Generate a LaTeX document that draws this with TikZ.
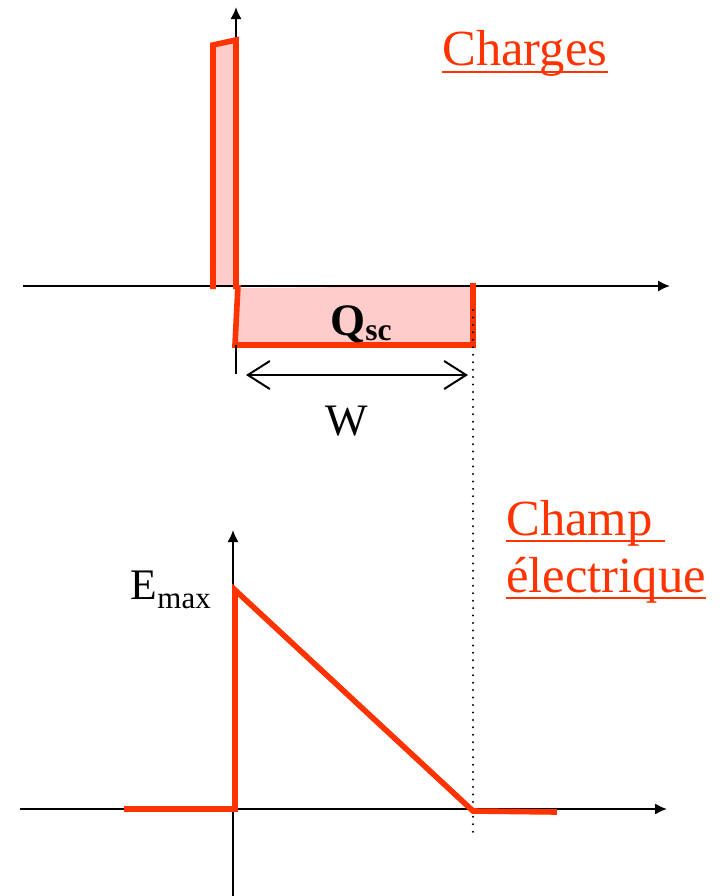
\documentclass[tikz,border=0pt]{standalone}
\usepackage{fontspec}
\setmainfont{Liberation Serif}
\usetikzlibrary{positioning, arrows.meta}
\definecolor{chargered}{RGB}{255,51,0}
\definecolor{chargepink}{RGB}{255,204,204}
\newcommand{\lowtext}[1]{\raisebox{-7pt}{\fontsize{22}{24}\selectfont #1}}

\begin{document}
\begin{tikzpicture}[
    x=0.025cm, y=-0.025cm,
    axis/.style={line width=1.4pt, -{Latex[length=3mm,width=2.8mm]}},
    redline/.style={draw=chargered, line width=4pt},
    chargefill/.style={fill=chargepink},
    titlebox/.style={text=chargered, inner sep=0pt, anchor=base west, font=\fontsize{36}{40}\selectfont},
    titleline/.style={draw=chargered, line width=1.4pt},
    lbl/.style={inner sep=0pt, font=\fontsize{32}{36}\selectfont},
    dimarrow/.style={line width=1.4pt, {Straight Barb[length=5.5mm,width=7mm]}-{Straight Barb[length=5.5mm,width=7mm]}},
    guide/.style={line width=1.6pt, line cap=round, dash pattern=on 0pt off 5.3pt}
  ]
  \useasboundingbox (0,0) rectangle (727,896);

  % charges
  \coordinate (xa) at (23,286);
  \coordinate (xb) at (670,286);
  \coordinate (ya) at (236,287);
  \coordinate (yb) at (236,7);
  \fill[chargefill] (213,287) -- (213,45) -- (236,40) -- (236,287) -- cycle;
  \fill[chargefill] (237,288) -- (473,286) -- (473,345) -- (235,345) -- cycle;
  \draw[axis] (xa) -- (xb);
  \draw[axis] (ya) -- (yb);
  \draw[redline] (213,289) -- (213,45) -- (236,40) -- (236,289);
  \draw[redline] (238,285) -- (235,345) -- (473,345) -- (473,283);
  \node[lbl, anchor=base west, font=\fontsize{32}{36}\selectfont\bfseries] (qsc) at (330,335) {Q\textsubscript{sc}};

  % largeur W
  \coordinate (tick1) at (236,345);
  \coordinate (tick2) at (236,374);
  \draw[line width=1.4pt] (tick1) -- (tick2);
  \coordinate (wl) at (246,375);
  \coordinate (wr) at (468,375);
  \draw[dimarrow] (wl) -- (wr);
  \node[lbl, anchor=base] (w) at (347,435) {W};
  \coordinate (g1) at (473,310);
  \coordinate (g2) at (473,836);
  \draw[guide] (g1) -- (g2);

  % champ
  \coordinate (xc) at (20,809);
  \coordinate (xd) at (667,809);
  \coordinate (yc) at (233,896);
  \coordinate (yd) at (233,530);
  \draw[axis] (xc) -- (xd);
  \draw[axis] (yc) -- (yd);
  \coordinate (e0) at (124,809);
  \coordinate (e1) at (235,809);
  \coordinate (emax) at (235,590);
  \coordinate (e2) at (473,811);
  \coordinate (e3) at (557,812);
  \draw[redline] (e0) -- (e1) -- (emax) -- (e2) -- (e3);
  \node[lbl, anchor=base east, font=\fontsize{31}{36}\selectfont] (emaxlbl) at (211,599) {E\lowtext{max}};

  % titres
  \node[titlebox] (charges) at (442,65) {Charges};
  \node[titlebox] (champ) at (506,535) {Champ\hspace*{0.25em}\mbox{}};
  \node[titlebox] (elec) at (506,592) {électrique};
  \draw[titleline] ([yshift=-5pt]charges.base west) -- ([yshift=-5pt]charges.base east);
  \draw[titleline] ([yshift=-4pt]champ.base west) -- ([yshift=-4pt]champ.base east);
  \draw[titleline] ([yshift=-4pt]elec.base west) -- ([yshift=-4pt]elec.base east);
\end{tikzpicture}
\end{document}
